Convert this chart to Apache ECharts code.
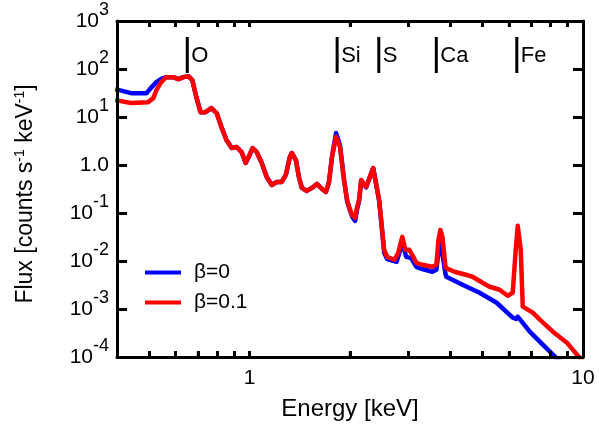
<!DOCTYPE html>
<html>
<head>
<meta charset="utf-8">
<script src="https://cdn.jsdelivr.net/npm/echarts@6/dist/echarts.min.js"></script>
<style>
  html, body { margin: 0; padding: 0; background: #fff; }
  #chart { width: 599px; height: 426px; }
</style>
</head>
<body>
<div id="chart"></div>
<script>
// ---- data ----
const energyBlue = [0.395, 0.441, 0.490, 0.505, 0.525, 0.543, 0.562, 0.590, 0.611, 0.633, 0.655, 0.673, 0.692, 0.712, 0.737, 0.768, 0.796, 0.823, 0.852, 0.883, 0.914, 0.946, 0.973, 0.993, 1.021, 1.050, 1.087, 1.125, 1.165, 1.206, 1.248, 1.284, 1.320, 1.338, 1.376, 1.405, 1.434, 1.485, 1.537, 1.591, 1.648, 1.694, 1.730, 1.766, 1.816, 1.866, 1.919, 1.960, 1.987, 2.029, 2.072, 2.101, 2.130, 2.160, 2.236, 2.347, 2.446, 2.480, 2.532, 2.585, 2.76, 2.870, 2.95, 3.05, 3.162, 3.297, 3.533, 3.633, 3.71, 3.80, 3.867, 3.89, 4.350, 4.894, 5.508, 6.154, 6.30, 6.371, 6.55, 6.923, 7.577, 8.235, 9.0];
const fluxBlue = [38.0, 31.4, 31.4, 39.9, 53.2, 62, 67.6, 67.6, 61.4, 67.6, 70.8, 58.5, 25.9, 12.6, 12.6, 15.3, 12.1, 6.16, 3.31, 2.26, 2.37, 1.86, 1.10, 1.47, 2.26, 1.86, 1.10, 0.563, 0.384, 0.443, 0.443, 0.620, 1.47, 1.78, 1.27, 0.563, 0.333, 0.288, 0.333, 0.403, 0.317, 0.275, 0.443, 1.47, 4.63, 2.6, 0.5, 0.18, 0.13, 0.085, 0.0685, 0.12, 0.18, 0.47, 0.34, 0.866, 0.18, 0.068, 0.0148, 0.0110, 0.00962, 0.0239, 0.0122, 0.0116, 0.00757, 0.0068, 0.00596, 0.00656, 0.0239, 0.012, 0.0054, 0.0047, 0.0032, 0.00218, 0.00135, 0.000659, 0.00062, 0.000691, 0.000545, 0.000337, 0.000181, 0.000102, 0.000055];

const energyRed = [0.395, 0.441, 0.496, 0.514, 0.525, 0.543, 0.562, 0.590, 0.611, 0.633, 0.655, 0.673, 0.692, 0.712, 0.737, 0.768, 0.796, 0.823, 0.852, 0.883, 0.914, 0.946, 0.973, 0.993, 1.021, 1.050, 1.087, 1.125, 1.165, 1.206, 1.248, 1.284, 1.320, 1.338, 1.376, 1.405, 1.434, 1.485, 1.537, 1.591, 1.648, 1.694, 1.730, 1.766, 1.816, 1.866, 1.919, 1.960, 1.987, 2.029, 2.072, 2.101, 2.130, 2.160, 2.236, 2.347, 2.446, 2.480, 2.532, 2.585, 2.715, 2.791, 2.870, 2.930, 3.012, 3.076, 3.162, 3.297, 3.533, 3.633, 3.684, 3.735, 3.787, 3.867, 3.921, 4.116, 4.566, 4.662, 4.997, 5.246, 5.623, 5.943, 6.154, 6.283, 6.371, 6.505, 6.596, 7.068, 7.421, 8.121, 8.949, 9.592, 10.0];
const fluxRed = [22.5, 19.5, 20.4, 24.7, 36.3, 53.2, 67.6, 67.6, 61.4, 67.6, 70.8, 58.5, 25.9, 12.6, 12.6, 15.3, 12.1, 6.16, 3.31, 2.26, 2.37, 1.86, 1.10, 1.47, 2.26, 1.86, 1.10, 0.563, 0.384, 0.443, 0.443, 0.620, 1.47, 1.78, 1.27, 0.563, 0.333, 0.288, 0.333, 0.403, 0.317, 0.275, 0.443, 1.47, 3.82, 2.37, 0.488, 0.187, 0.134, 0.0912, 0.0791, 0.134, 0.187, 0.488, 0.349, 0.866, 0.187, 0.0719, 0.0171, 0.0122, 0.0106, 0.0148, 0.0319, 0.0171, 0.0171, 0.0134, 0.00918, 0.00834, 0.00757, 0.00834, 0.0276, 0.0445, 0.0319, 0.00757, 0.00688, 0.00596, 0.00492, 0.00470, 0.00352, 0.00291, 0.00252, 0.00189, 0.00218, 0.0171, 0.0540, 0.0171, 0.00112, 0.000838, 0.000600, 0.000337, 0.000199, 0.000112, 0.00008];

const seriesNames = ['β=0', 'β=0.1'];
const elementNames = ['O', 'Si', 'S', 'Ca', 'Fe'];
const elementEnergies = [0.65, 1.83, 2.44, 3.63, 6.33];
const xMajorTicks = [1, 10];
const xMinorTicks = [0.5, 0.6, 0.7, 0.8, 0.9, 2, 3, 4, 5, 6, 7, 8, 9];
const yTicks = [1e-4, 1e-3, 1e-2, 1e-1, 1, 10, 100, 1000];
const xRange = [0.4, 10];
const yRange = [1e-4, 1e3];

// ---- chart ----
const FONT = 'Liberation Sans, Arial, Helvetica, sans-serif';
const chart = echarts.init(document.getElementById('chart'));

function pairs(xs, ys) { return xs.map((x, i) => [x, ys[i]]); }

function yLabel(v) {
  const e = Math.round(Math.log10(v));
  if (e === 0) return '{b|1.0}';
  return '{b|10}{s|' + e + '}';
}

function axisLine() { return { show: true, lineStyle: { color: '#000', width: 3 } }; }
function xTick() {
  return { show: true, inside: true, length: 6, customValues: xMajorTicks.concat(xMinorTicks), lineStyle: { color: '#000', width: 3 } };
}
function yTick() {
  return { show: true, inside: true, length: 10, customValues: yTicks, lineStyle: { color: '#000', width: 3 } };
}

const option = {
  animation: false,
  grid: { left: 117, right: 16, top: 21, bottom: 68 },
  legend: {
    data: seriesNames,
    orient: 'vertical',
    left: 140,
    top: 257,
    itemWidth: 36,
    itemHeight: 4,
    itemGap: 9,
    icon: 'rect',
    textStyle: { fontFamily: FONT, fontSize: 21, color: '#000', padding: [0, 0, 4, 8] },
    selectedMode: false
  },
  xAxis: [
    {
      type: 'log', min: xRange[0], max: xRange[1], position: 'bottom', z: 10,
      name: 'Energy [keV]', nameLocation: 'middle', nameGap: 40,
      nameTextStyle: { fontFamily: FONT, fontSize: 24, color: '#000' },
      axisLine: axisLine(),
      axisTick: xTick(),
      axisLabel: { color: '#000', fontFamily: FONT, fontSize: 21, margin: 11, customValues: xMajorTicks },
      splitLine: { show: false }
    },
    {
      type: 'log', min: xRange[0], max: xRange[1], position: 'top', z: 10,
      axisLine: axisLine(),
      axisTick: xTick(),
      axisLabel: { show: false }, splitLine: { show: false }
    }
  ],
  yAxis: [
    {
      type: 'log', min: yRange[0], max: yRange[1], position: 'left', z: 10,
      name: '{a|Flux [counts s}{s|-1}{a| keV}{s|-1}{a|]}',
      nameLocation: 'middle', nameGap: 80, nameRotate: 90,
      nameTextStyle: {
        color: '#000', fontFamily: FONT, fontSize: 23, padding: [0, 10, 0, 0],
        rich: {
          a: { fontFamily: FONT, fontSize: 23, color: '#000', verticalAlign: 'bottom', lineHeight: 24 },
          s: { fontFamily: FONT, fontSize: 14, color: '#000', verticalAlign: 'bottom', lineHeight: 14, padding: [0, 0, 10, 0] }
        }
      },
      axisLine: axisLine(),
      axisTick: yTick(),
      axisLabel: {
        color: '#000', margin: 8, formatter: yLabel,
        rich: {
          b: { fontFamily: FONT, fontSize: 21, color: '#000', verticalAlign: 'bottom', lineHeight: 21 },
          s: { fontFamily: FONT, fontSize: 18, color: '#000', verticalAlign: 'bottom', lineHeight: 18, padding: [0, 0, 12, 0] }
        }
      },
      splitLine: { show: false }
    },
    {
      type: 'log', min: yRange[0], max: yRange[1], position: 'right', z: 10,
      axisLine: axisLine(),
      axisTick: yTick(),
      axisLabel: { show: false }, splitLine: { show: false }
    }
  ],
  series: [
    {
      name: seriesNames[0], type: 'line', data: pairs(energyBlue, fluxBlue),
      showSymbol: false, symbol: 'none',
      lineStyle: { color: '#0000ff', width: 4.5, join: 'round' }, itemStyle: { color: '#0000ff' },
      z: 3
    },
    {
      name: seriesNames[1], type: 'line', data: pairs(energyRed, fluxRed),
      showSymbol: false, symbol: 'none',
      lineStyle: { color: '#ff0000', width: 4.5, join: 'round' }, itemStyle: { color: '#ff0000' },
      z: 4
    },
    {
      // element line markers
      name: 'elements', type: 'custom', silent: true, z: 5,
      data: elementEnergies.map((e, i) => [e, 100, elementNames[i]]),
      renderItem: function (params, api) {
        const cs = params.coordSys;
        const x = api.coord([api.value(0), 100])[0];
        const name = elementNames[params.dataIndex];
        return {
          type: 'group', children: [
            { type: 'rect', shape: { x: x - 1.5, y: cs.y + 16, width: 3, height: 36 }, style: { fill: '#000' } },
            { type: 'text', style: { x: x + 4, y: cs.y + 35, text: name, fontFamily: FONT, fontSize: 22, fill: '#000', verticalAlign: 'middle', align: 'left' } }
          ]
        };
      }
    },
    {
      // minor ticks on the bottom and top energy axes (backup drawing through the axis scale)
      name: 'minorTicks', type: 'custom', silent: true, z: 10,
      data: xMinorTicks.map(v => [v, 1]),
      renderItem: function (params, api) {
        const cs = params.coordSys;
        const x = api.coord([api.value(0), 1])[0];
        return {
          type: 'group', children: [
            { type: 'rect', shape: { x: x - 1.25, y: cs.y + cs.height - 5, width: 2.5, height: 5 }, style: { fill: '#000' } },
            { type: 'rect', shape: { x: x - 1.25, y: cs.y, width: 2.5, height: 5 }, style: { fill: '#000' } }
          ]
        };
      }
    }
  ]
};
chart.setOption(option);
</script>
</body>
</html>
